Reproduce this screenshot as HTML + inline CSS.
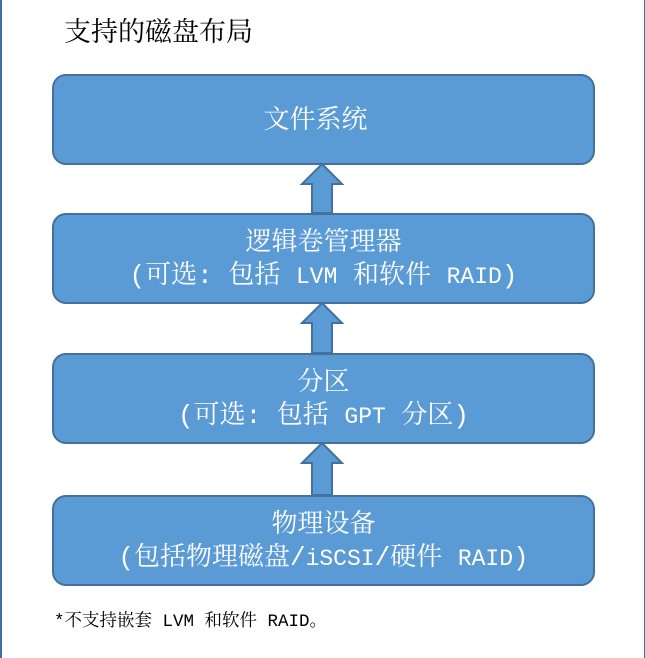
<!DOCTYPE html>
<html><head><meta charset="utf-8"><style>
html,body{margin:0;padding:0;background:#fff}
body{width:645px;height:653px;position:relative;overflow:hidden;font-family:"Liberation Mono","Noto Serif CJK SC",serif}
.frame{position:absolute;left:0;top:-2px;width:642px;height:660px;border-left:2px solid #41719c;border-right:2px solid #41719c}
.box{position:absolute;left:52px;width:539px;height:84px;padding-top:3px;background:#5b9bd5;border:2px solid #41719c;border-radius:14px;color:#fff;text-align:center;font-size:26px;display:flex;flex-direction:column;justify-content:center;line-height:33px}
.l{font-size:23px}
.t{position:absolute;color:#000}
svg{position:absolute;left:0;top:0}
</style></head><body>
<div class="frame"></div>
<div class="t" style="left:64px;top:18px;font-size:27px;line-height:34px">支持的磁盘布局</div>
<div class="box" style="top:74px"><div style="margin-right:16px">文件系统</div></div>
<div class="box" style="top:213px"><div>逻辑卷管理器</div><div>(可选: 包括 <span class="l">LVM</span> 和软件 <span class="l">RAID</span>)</div></div>
<div class="box" style="top:353px"><div>分区</div><div>(可选: 包括 <span class="l">GPT</span> 分区)</div></div>
<div class="box" style="top:495px"><div>物理设备</div><div>(包括物理磁盘/<span class="l">iSCSI</span>/硬件 <span class="l">RAID</span>)</div></div>
<svg width="645" height="653">
<g fill="#5b9bd5" stroke="#41719c" stroke-width="2">
<polygon points="322,164 342,184 332,184 332,213 312,213 312,184 302,184"/>
<polygon points="322,303 342,323 332,323 332,353 312,353 312,323 302,323"/>
<polygon points="322,443 342,463 332,463 332,495 312,495 312,463 302,463"/>
</g>
</svg>
<div class="t" style="left:54px;top:610px;font-size:17.5px;line-height:24px">*不支持嵌套 LVM 和软件 RAID。</div>
</body></html>
